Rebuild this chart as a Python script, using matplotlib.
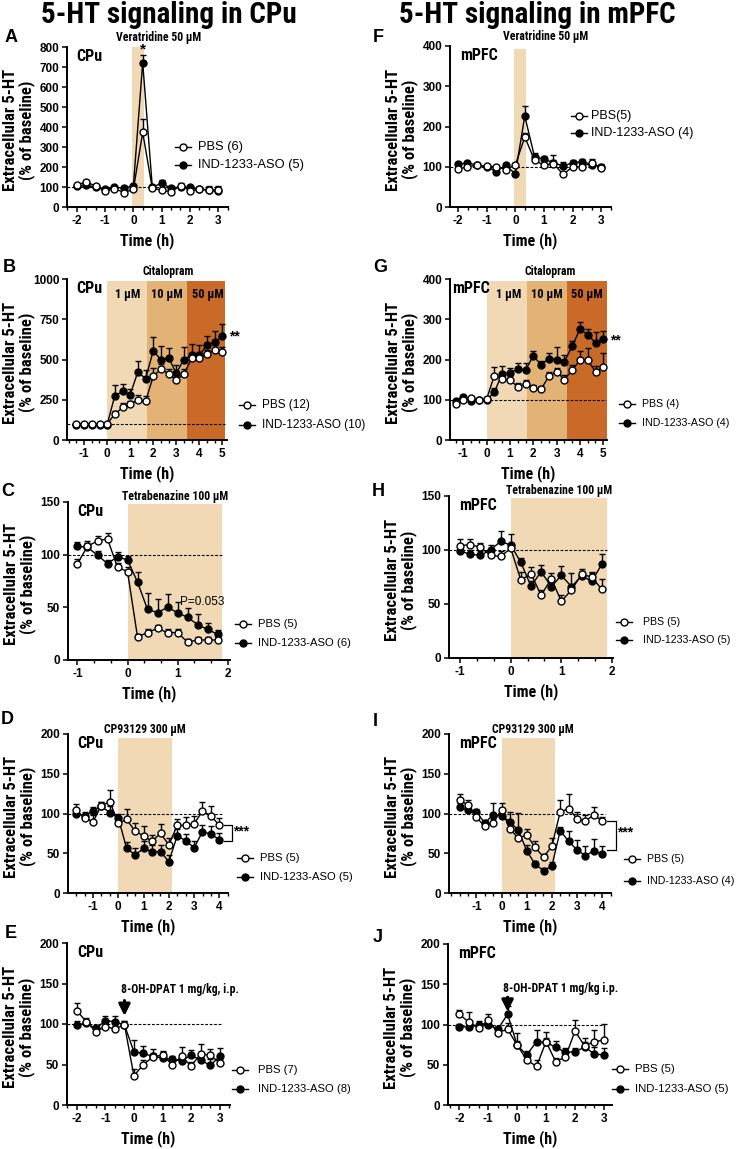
import matplotlib
matplotlib.use("Agg")
import matplotlib.pyplot as plt
from matplotlib.ticker import MultipleLocator, FixedLocator

plt.rcParams['font.family'] = ['Liberation Sans', 'DejaVu Sans']
NARROW = ['Roboto Condensed', 'Liberation Sans Narrow', 'Liberation Sans', 'DejaVu Sans']

W, H = 741, 1149

# ---- data ----
t_16 = [-2, -1.67, -1.33, -1, -0.67, -0.33, 0, 0.33, 0.67, 1, 1.33, 1.67, 2, 2.33, 2.67, 3]
t_20 = [-1.33, -1, -0.67, -0.33, 0, 0.33, 0.67, 1, 1.33, 1.67, 2, 2.33, 2.67, 3, 3.33, 3.67, 4, 4.33, 4.67, 5]
t_15 = [-1, -0.8, -0.6, -0.4, -0.2, 0, 0.2, 0.4, 0.6, 0.8, 1, 1.2, 1.4, 1.6, 1.8]
t_18 = [-1.67, -1.33, -1, -0.67, -0.33, 0, 0.33, 0.67, 1, 1.33, 1.67, 2, 2.33, 2.67, 3, 3.33, 3.67, 4]

# A: veratridine, CPu
pbs_a = [110, 126, 104, 80, 92, 72, 88, 373, 93, 85, 76, 107, 82, 88, 85, 85]
pbs_a_err = [10, 10, 8, 8, 8, 10, 10, 65, 10, 10, 8, 14, 10, 10, 20, 20]
aso_a = [105, 108, 100, 88, 98, 95, 105, 722, 100, 118, 95, 100, 98, 90, 85, 78]
aso_a_err = [8, 8, 8, 8, 8, 8, 10, 40, 10, 15, 8, 8, 8, 10, 10, 10]

# F: veratridine, mPFC
pbs_f = [94, 100, 104, 101, 100, 93, 104, 174, 116, 104, 108, 81, 100, 100, 110, 97]
pbs_f_err = [5, 5, 5, 4, 5, 5, 5, 10, 8, 6, 8, 5, 6, 5, 10, 8]
aso_f = [106, 110, 104, 100, 88, 104, 82, 226, 125, 119, 110, 102, 110, 113, 105, 100]
aso_f_err = [5, 5, 5, 5, 5, 5, 5, 26, 10, 8, 20, 10, 8, 6, 8, 8]

# B: citalopram, CPu
pbs_b = [100, 100, 100, 100, 100, 160, 202, 222, 247, 241, 395, 440, 412, 372, 410, 508, 512, 533, 562, 545]
pbs_b_err = [5, 5, 5, 5, 5, 20, 25, 20, 35, 35, 50, 35, 30, 30, 30, 30, 30, 25, 30, 30]
aso_b = [95, 95, 95, 95, 95, 273, 302, 282, 422, 381, 554, 500, 510, 415, 500, 525, 527, 590, 607, 645]
aso_b_err = [5, 5, 5, 5, 5, 70, 45, 35, 70, 55, 85, 85, 60, 50, 75, 70, 65, 55, 70, 75]

# G: citalopram, mPFC
pbs_g = [90, 100, 104, 100, 102, 160, 152, 149, 132, 140, 129, 126, 158, 170, 150, 174, 198, 198, 170, 181]
pbs_g_err = [4, 4, 4, 4, 4, 22, 10, 10, 10, 8, 8, 8, 12, 10, 12, 12, 22, 30, 15, 35]
aso_g = [98, 108, 96, 100, 100, 119, 165, 166, 177, 174, 209, 187, 202, 200, 195, 233, 276, 261, 242, 250]
aso_g_err = [4, 4, 4, 4, 4, 10, 18, 12, 15, 18, 12, 10, 15, 30, 15, 12, 18, 15, 27, 22]

# C: tetrabenazine, CPu
pbs_c = [91.5, 108, 113, 115, 88, 84, 22, 26, 30, 26, 26, 17, 19, 19, 19]
pbs_c_err = [4, 5, 5, 6, 4, 4, 3, 3, 3, 3, 3, 3, 3, 3, 3]
aso_c = [108, 107, 99.5, 91.5, 98, 95, 74, 48, 45, 50, 45, 40.5, 33.7, 29, 24.5]
aso_c_err = [4, 4, 4, 3, 5, 4, 10, 16, 13, 13, 10, 9, 10, 6, 4]

# H: tetrabenazine, mPFC
pbs_h = [104, 105, 102.5, 95, 94, 101.5, 72, 78, 58, 73.5, 52.5, 63, 77.5, 75, 63.5]
pbs_h_err = [6, 5, 4, 5, 5, 4, 8, 6, 5, 5, 6, 5, 5, 5, 10]
aso_h = [99, 96, 95, 100, 108, 104.5, 88.5, 66.5, 80, 66, 76.5, 66, 76, 71, 87]
aso_h_err = [5, 4, 4, 5, 10, 10, 4, 5, 6, 6, 9, 13, 5, 8, 9]

# D: CP93129, CPu
pbs_d = [104, 94.6, 89.6, 110, 114.6, 87.5, 92.5, 77.5, 72, 65, 75, 60.6, 85, 85, 87, 103, 97, 85]
pbs_d_err = [8, 5, 8, 5, 15, 8, 13, 10, 12, 8, 12, 8, 8, 10, 10, 12, 13, 9]
aso_d = [99.6, 97, 103, 109, 101, 94.6, 56, 48, 56, 52, 52, 39.4, 72, 65.7, 57, 77, 74, 67]
aso_d_err = [5, 5, 5, 5, 8, 5, 8, 8, 10, 8, 8, 8, 8, 8, 8, 8, 10, 8]

# I: CP93129, mPFC
pbs_i = [117, 110.6, 95, 84, 88.6, 105, 80.5, 69, 73, 57.6, 45, 59, 102, 106, 93.6, 90.7, 98, 90.7]
pbs_i_err = [8, 7, 5, 5, 5, 8, 10, 12, 8, 8, 4, 10, 15, 18, 8, 8, 10, 5]
aso_i = [107.6, 104, 102, 88, 98.7, 97, 89.4, 78.8, 53, 36.4, 28, 34, 78.4, 64.8, 54.2, 47, 53, 49]
aso_i_err = [5, 5, 4, 4, 15, 5, 12, 22, 8, 4, 4, 5, 5, 13, 12, 12, 15, 10]

# E: 8-OH-DPAT, CPu
pbs_e = [116.5, 103, 90.5, 96.7, 94, 98.8, 36, 50, 59.5, 61.6, 50, 60, 48, 63, 61.6, 52]
pbs_e_err = [9, 4, 3, 4, 4, 5, 8, 5, 5, 5, 5, 12, 5, 12, 8, 5]
aso_e = [98.8, 100.8, 94.6, 104, 103, 98.8, 65.7, 63.6, 60, 58, 56.6, 54.5, 61.6, 55.4, 49, 60]
aso_e_err = [5, 4, 4, 6, 7, 5, 15, 9, 9, 7, 4, 4, 6, 6, 8, 10]

# J: 8-OH-DPAT, mPFC
pbs_j = [112.7, 103, 96, 105, 90, 94, 74.6, 56, 48, 78.7, 54, 59.4, 92, 73.4, 78.7, 80.7]
pbs_j_err = [5, 12, 5, 8, 4, 8, 15, 5, 8, 12, 5, 5, 13, 10, 15, 20]
aso_j = [97, 97, 99, 100, 94, 112.7, 74.6, 62, 78.7, 78, 71.7, 65.6, 66, 72, 63.5, 62]
aso_j_err = [4, 4, 5, 5, 4, 10, 5, 5, 15, 5, 8, 5, 5, 6, 8, 9]

LIGHT = '#F1D9B5'
MID = '#E2B374'
DARK = '#C96A29'

fig = plt.figure(figsize=(W / 100, H / 100), dpi=100)


def fx(px):
    return px / W


def fy(py):
    return 1 - py / H


def make_axes(l, t, r, b, xlim, ylim, yticks, xticks):
    ax = fig.add_axes([fx(l), fy(b), (r - l) / W, (b - t) / H])
    ax.set_xlim(*xlim)
    ax.set_ylim(*ylim)
    for s in ['top', 'right']:
        ax.spines[s].set_visible(False)
    for s in ['left', 'bottom']:
        ax.spines[s].set_linewidth(1.4)
    ax.yaxis.set_major_locator(FixedLocator(yticks))
    ax.xaxis.set_major_locator(FixedLocator(xticks))
    ax.xaxis.set_minor_locator(MultipleLocator(1 / 3))
    ax.tick_params(which='major', direction='out', length=3.5, width=1.1, labelsize=8.5, pad=2)
    ax.tick_params(which='minor', direction='out', length=2.5, width=1.0)
    ax.tick_params(axis='y', which='minor', left=False)
    ax.set_yticklabels([str(v) for v in yticks], fontweight='bold')
    ax.set_xticklabels([str(v) for v in xticks], fontweight='bold')
    ax.set_xlabel('Time (h)', family=NARROW, fontweight='bold', fontsize=11.5, labelpad=4)
    ax.set_facecolor('none')
    # y label as figure text
    fig.text(fx(l - 48), fy((t + b) / 2 + 3), 'Extracellular 5-HT\n(% of baseline)',
             rotation=90, ha='center', va='center', family=NARROW,
             fontweight='bold', fontsize=12, linespacing=1.08, multialignment='center')
    return ax


def plot_series(ax, t, pbs, pbs_err, aso, aso_err):
    ax.errorbar(t, aso, yerr=[[0] * len(aso_err), aso_err], fmt='-o', color='black',
                mfc='black', mec='black', ms=5, lw=1.0, elinewidth=1.0, capsize=2.2,
                capthick=1.0, mew=1.0, zorder=3)
    ax.errorbar(t, pbs, yerr=[[0] * len(pbs_err), pbs_err], fmt='-o', color='black',
                mfc='white', mec='black', ms=5, lw=1.0, elinewidth=1.0, capsize=2.2,
                capthick=1.0, mew=1.0, zorder=4)


def dashed(ax, x0, x1):
    ax.plot([x0, x1], [100, 100], ls=(0, (2.5, 1.5)), color='black', lw=0.8, zorder=2)


def legend_px(xm, y1, y2, xt, lab1, lab2, size):
    for y, lab, fc in [(y1, lab1, 'white'), (y2, lab2, 'black')]:
        ln = plt.Line2D([fx(xm - 8), fx(xm + 8)], [fy(y), fy(y)], transform=fig.transFigure,
                        color='black', lw=1.0)
        fig.add_artist(ln)
        mk = plt.Line2D([fx(xm)], [fy(y)], transform=fig.transFigure, marker='o', ms=5,
                        mfc=fc, mec='black', mew=1.0, lw=0)
        fig.add_artist(mk)
        fig.text(fx(xt), fy(y), lab, ha='left', va='center', fontsize=size)


def panel_letter(x, y, s):
    fig.text(fx(x), fy(y), s, ha='left', va='center', fontsize=13, fontweight='bold')


def inner_label(ax, s, x=0.06):
    ax.text(x, 0.985, s, transform=ax.transAxes, ha='left', va='top', family=NARROW,
            fontweight='bold', fontsize=11.5)


def bold_note(ax, x, y, s, size=8.5, ha='center', va='bottom'):
    ax.text(x, y, s, ha=ha, va=va, family=NARROW, fontweight='bold', fontsize=size,
            clip_on=False)


def drug_arrow(ax, x, y_tip, y_tail):
    ax.annotate('', xy=(x, y_tip), xytext=(x, y_tail),
                arrowprops=dict(arrowstyle='-|>', color='black', lw=2.2, mutation_scale=17,
                                shrinkA=0, shrinkB=0))


# ---- titles ----
fig.text(fx(169), fy(23), '5-HT signaling in CPu', ha='center', va='baseline',
         family=NARROW, fontweight='bold', fontsize=21)
fig.text(fx(537), fy(23), '5-HT signaling in mPFC', ha='center', va='baseline',
         family=NARROW, fontweight='bold', fontsize=21)

# ---- A ----
ax = make_axes(67, 47, 228, 207, (-2.35, 3.35), (0, 800), [0, 100, 200, 300, 400, 500, 600, 700, 800],
               [-2, -1, 0, 1, 2, 3])
ax.axvspan(-0.05, 0.37, color=LIGHT, lw=0, zorder=0)
dashed(ax, -2.35, 3.1)
plot_series(ax, t_16, pbs_a, pbs_a_err, aso_a, aso_a_err)
inner_label(ax, 'CPu')
bold_note(ax, 0.9, 815, 'Veratridine 50 µM')
ax.text(0.33, 755, '*', ha='center', va='bottom', fontsize=11, fontweight='bold')
legend_px(183, 147, 165, 198, 'PBS (6)', 'IND-1233-ASO (5)', 9.3)
panel_letter(5, 37, 'A')

# ---- F ----
ax = make_axes(450, 46, 611, 207, (-2.28, 3.34), (0, 400), [0, 100, 200, 300, 400],
               [-2, -1, 0, 1, 2, 3])
ax.axvspan(-0.05, 0.37, ymax=0.98, color=LIGHT, lw=0, zorder=0)
dashed(ax, -2.28, 3.0)
plot_series(ax, t_16, pbs_f, pbs_f_err, aso_f, aso_f_err)
inner_label(ax, 'mPFC')
bold_note(ax, 1.05, 408, 'Veratridine 50 µM')
legend_px(579, 116, 133, 591, 'PBS(5)', 'IND-1233-ASO (4)', 9.0)
panel_letter(373, 37, 'F')

# ---- B ----
ax = make_axes(67, 279, 227, 440, (-1.74, 5.2), (0, 1000), [0, 250, 500, 750, 1000],
               [-1, 0, 1, 2, 3, 4, 5])
ax.axvspan(0, 1.74, ymax=0.99, color=LIGHT, lw=0, zorder=0)
ax.axvspan(1.74, 3.48, ymax=0.99, color=MID, lw=0, zorder=0)
ax.axvspan(3.48, 5.13, ymax=0.99, color=DARK, lw=0, zorder=0)
dashed(ax, -1.74, 5.13)
plot_series(ax, t_20, pbs_b, pbs_b_err, aso_b, aso_b_err)
inner_label(ax, 'CPu')
bold_note(ax, 2.65, 1005, 'Citalopram')
bold_note(ax, 0.9, 905, '1 µM', size=9, va='center')
bold_note(ax, 2.6, 905, '10 µM', size=9, va='center')
bold_note(ax, 4.35, 905, '50 µM', size=9, va='center')
ax.text(5.3, 640, '**', ha='left', va='center', fontsize=10, fontweight='bold', clip_on=False)
legend_px(247, 405, 425, 262, 'PBS (12)', 'IND-1233-ASO (10)', 8.5)
panel_letter(3, 268, 'B')

# ---- G ----
ax = make_axes(450, 279, 607, 440, (-1.57, 5.16), (0, 400), [0, 100, 200, 300, 400],
               [-1, 0, 1, 2, 3, 4, 5])
ax.axvspan(0, 1.74, ymax=0.99, color=LIGHT, lw=0, zorder=0)
ax.axvspan(1.74, 3.46, ymax=0.99, color=MID, lw=0, zorder=0)
ax.axvspan(3.46, 5.15, ymax=0.99, color=DARK, lw=0, zorder=0)
dashed(ax, -1.57, 5.13)
plot_series(ax, t_20, pbs_g, pbs_g_err, aso_g, aso_g_err)
inner_label(ax, 'mPFC', x=0.015)
bold_note(ax, 2.72, 402, 'Citalopram')
bold_note(ax, 0.96, 362, '1 µM', size=9, va='center')
bold_note(ax, 2.6, 362, '10 µM', size=9, va='center')
bold_note(ax, 4.3, 362, '50 µM', size=9, va='center')
ax.text(5.3, 247, '**', ha='left', va='center', fontsize=10, fontweight='bold', clip_on=False)
legend_px(627, 404, 423, 642, 'PBS (4)', 'IND-1233-ASO (4)', 7.7)
panel_letter(373, 268, 'G')

# ---- C ----
ax = make_axes(68, 502, 230, 660, (-1.19, 2.05), (0, 150), [0, 50, 100, 150], [-1, 0, 1, 2])
ax.axvspan(0, 1.89, ymax=0.985, color=LIGHT, lw=0, zorder=0)
dashed(ax, -1.19, 1.89)
plot_series(ax, t_15, pbs_c, pbs_c_err, aso_c, aso_c_err)
inner_label(ax, 'CPu')
bold_note(ax, 0.95, 149, 'Tetrabenazine 100 µM')
ax.text(1.5, 55, 'P=0.053', ha='center', va='center', fontsize=8.5)
legend_px(243, 624, 643, 258, 'PBS (5)', 'IND-1233-ASO (6)', 8.1)
panel_letter(1, 491, 'C')

# ---- H ----
ax = make_axes(449, 496, 613, 658, (-1.22, 2.02), (0, 150), [0, 50, 100, 150], [-1, 0, 1, 2])
ax.axvspan(0, 1.9, ymax=0.985, color=LIGHT, lw=0, zorder=0)
dashed(ax, -1.22, 1.9)
plot_series(ax, t_15, pbs_h, pbs_h_err, aso_h, aso_h_err)
inner_label(ax, 'mPFC')
bold_note(ax, 0.95, 149, 'Tetrabenazine 100 µM')
legend_px(624, 622, 640, 643, 'PBS (5)', 'IND-1233-ASO (5)', 7.7)
panel_letter(372, 492, 'H')

# ---- D ----
ax = make_axes(68, 734, 228, 893, (-1.99, 4.34), (0, 200), [0, 50, 100, 150, 200],
               [-1, 0, 1, 2, 3, 4])
ax.axvspan(0, 2.12, ymax=0.975, color=LIGHT, lw=0, zorder=0)
dashed(ax, -1.99, 4.1)
plot_series(ax, t_18, pbs_d, pbs_d_err, aso_d, aso_d_err)
inner_label(ax, 'CPu')
bold_note(ax, 1.06, 197, 'CP93129 300 µM')
ax.plot([4.18, 4.5, 4.5, 4.18], [85, 85, 66, 66], color='black', lw=0.9, clip_on=False)
ax.text(4.55, 77, '***', ha='left', va='center', fontsize=10, fontweight='bold', clip_on=False)
legend_px(245, 858, 877, 260, 'PBS (5)', 'IND-1233-ASO (5)', 8.1)
panel_letter(1, 719, 'D')

# ---- I ----
ax = make_axes(449, 734, 611, 893, (-2.09, 4.35), (0, 200), [0, 50, 100, 150, 200],
               [-1, 0, 1, 2, 3, 4])
ax.axvspan(0, 2.12, ymax=0.975, color=LIGHT, lw=0, zorder=0)
dashed(ax, -2.09, 4.1)
plot_series(ax, t_18, pbs_i, pbs_i_err, aso_i, aso_i_err)
inner_label(ax, 'mPFC')
bold_note(ax, 1.24, 197, 'CP93129 300 µM')
ax.plot([4.2, 4.56, 4.56, 4.2], [91, 91, 54, 54], color='black', lw=0.9, clip_on=False)
ax.text(4.6, 76, '***', ha='left', va='center', fontsize=10, fontweight='bold', clip_on=False)
legend_px(632, 859, 881, 647, 'PBS (5)', 'IND-1233-ASO (4)', 7.7)
panel_letter(373, 721, 'I')

# ---- E ----
ax = make_axes(67, 943, 230, 1105, (-2.34, 3.36), (0, 200), [0, 50, 100, 150, 200],
               [-2, -1, 0, 1, 2, 3])
dashed(ax, -2.34, 3.03)
plot_series(ax, t_16, pbs_e, pbs_e_err, aso_e, aso_e_err)
inner_label(ax, 'CPu')
drug_arrow(ax, -0.33, 110, 129)
bold_note(ax, -0.45, 134, '8-OH-DPAT 1 mg/kg, i.p.', ha='left')
legend_px(240, 1070, 1089, 258, 'PBS (7)', 'IND-1233-ASO (8)', 8.1)
panel_letter(5, 934, 'E')

# ---- J ----
ax = make_axes(448, 944, 612, 1105, (-2.39, 3.28), (0, 200), [0, 50, 100, 150, 200],
               [-2, -1, 0, 1, 2, 3])
dashed(ax, -2.39, 3.0)
plot_series(ax, t_16, pbs_j, pbs_j_err, aso_j, aso_j_err)
inner_label(ax, 'mPFC')
drug_arrow(ax, -0.33, 116, 134)
bold_note(ax, -0.5, 137, '8-OH-DPAT 1 mg/kg i.p.', ha='left')
legend_px(620, 1069, 1089, 635, 'PBS (5)', 'IND-1233-ASO (5)', 8.2)
panel_letter(373, 938, 'J')

fig.savefig('out.png', dpi=100)
